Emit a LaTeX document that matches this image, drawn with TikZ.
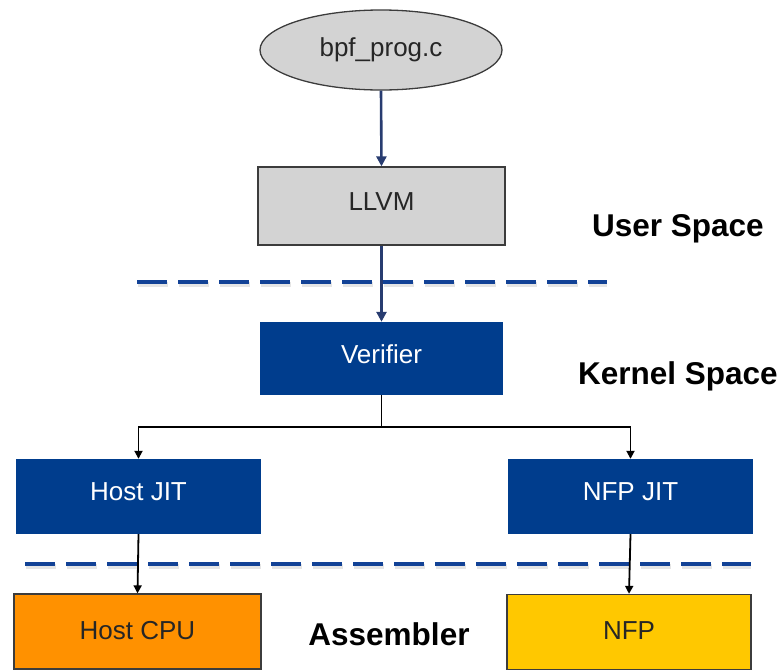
\documentclass[tikz,border=0pt]{standalone}
\usepackage{fontspec}
\setmainfont{Liberation Sans}
\usetikzlibrary{arrows.meta,shapes.geometric}

\definecolor{boxblue}{RGB}{0,61,141}
\definecolor{boxgray}{RGB}{211,211,211}
\definecolor{edgegray}{RGB}{60,60,60}
\definecolor{flowblue}{RGB}{40,60,112}
\definecolor{dashblue}{RGB}{18,66,150}
\definecolor{cpuorange}{RGB}{255,145,0}
\definecolor{nfpyellow}{RGB}{255,200,0}

\tikzset{
  boxtext/.style={font=\fontsize{26}{30}\selectfont},
  graybox/.style={rectangle, draw=edgegray, line width=1.3pt, fill=boxgray,
    inner sep=0pt, boxtext, text=black!85, text depth=8pt},
  bluebox/.style={rectangle, fill=boxblue, inner sep=0pt, boxtext, text=white,
    text depth=9pt},
  hwbox/.style={rectangle, draw=edgegray, line width=1.3pt,
    inner sep=0pt, boxtext, text=black!85, text depth=3pt},
  spacelabel/.style={font=\bfseries\fontsize{31.5}{35}\selectfont, text=black},
  flow/.style={draw=flowblue, line width=2.6pt,
    -{Triangle[width=10pt,length=10pt]}},
  branch/.style={draw=black, line width=1.8pt,
    -{Triangle[width=8pt,length=8pt]}},
  divider/.style={draw=dashblue, line width=4pt, dash pattern=on 30pt off 11pt},
  dividershade/.style={draw=black!10, line width=5pt, dash pattern=on 30pt off 11pt},
}

\begin{document}
\begin{tikzpicture}[x=1pt, y=-1pt]
  \useasboundingbox (0,0) rectangle (780,670);
  \clip (0,0) rectangle (780,670);

  % separators between user space, kernel space and hardware
  \draw[dividershade] (138,284.5) -- (607,284.5);
  \draw[divider] (137,282) -- (607,282);
  \draw[dividershade] (26,566.5) -- (751,566.5);
  \draw[divider] (25,564) -- (751,564);

  % nodes
  \node[ellipse, draw=edgegray, line width=1.3pt, fill=boxgray,
        minimum width=242pt, minimum height=80pt, inner sep=0pt,
        boxtext, text=black!85] (prog) at (381,50) {bpf\_prog.c};
  \node[graybox, minimum width=247pt, minimum height=78pt] (llvm) at (381.5,206) {LLVM};
  \node[bluebox, minimum width=243pt, minimum height=73pt] (verifier) at (381.5,358.5) {Verifier};
  \node[bluebox, minimum width=245pt, minimum height=75pt] (hostjit) at (138.5,496.5) {Host JIT};
  \node[bluebox, minimum width=245pt, minimum height=75pt] (nfpjit) at (630.5,496.5) {NFP JIT};
  \node[hwbox, fill=cpuorange, minimum width=247pt, minimum height=75pt] (hostcpu) at (137.5,631.5) {Host CPU};
  \node[hwbox, fill=nfpyellow, minimum width=244pt, minimum height=75pt] (nfp) at (629,632) {NFP};

  % space labels
  \node[spacelabel] (userspace) at (678,229) {User Space};
  \node[spacelabel] (kernelspace) at (678,376) {Kernel Space};
  \node[spacelabel] (assembler) at (389,634) {Assembler};

  % connectors
  \draw[flow] (prog.south) -- (llvm.north);
  \draw[flow] (llvm.south) -- (verifier.north);
  \coordinate (split) at (381.5,427);
  \draw[line width=1.8pt] (verifier.south) -- (split);
  \draw[branch] (split) -| (hostjit.north);
  \draw[branch] (split) -| (nfpjit.north);
  \draw[branch] (hostjit.south) -- (hostcpu.north);
  \draw[branch] (nfpjit.south) -- (nfp.north);
\end{tikzpicture}
\end{document}
